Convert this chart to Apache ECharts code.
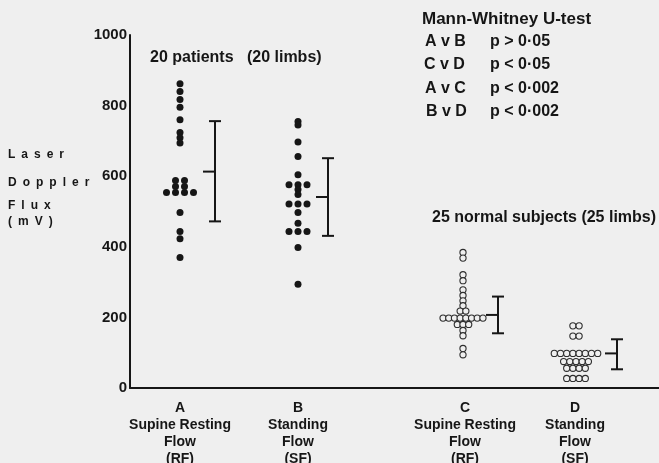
<!DOCTYPE html>
<html>
<head>
<meta charset="utf-8">
<script src="https://cdn.jsdelivr.net/npm/echarts@6/dist/echarts.min.js"></script>
<style>
html,body{margin:0;padding:0;background:#efefef;}
#chart{width:659px;height:463px;}
</style>
</head>
<body>
<div id="chart"></div>
<script>
// ---- data ----
const groupNames = ['A', 'B', 'C', 'D'];
const groupLabels = ['A\nSupine Resting\nFlow\n(RF)', 'B\nStanding\nFlow\n(SF)', 'C\nSupine Resting\nFlow\n(RF)', 'D\nStanding\nFlow\n(SF)'];
const valuesA = [862, 840, 817, 795, 760, 724, 709, 694, 588, 588, 571, 571, 554, 554, 554, 554, 497, 443, 423, 370];
const valuesB = [755, 745, 697, 656, 604, 576, 576, 576, 562, 548, 521, 521, 521, 497, 467, 443, 443, 443, 398, 294];
const valuesC = [384, 368, 321, 304, 278, 262, 247, 233, 218, 218, 198, 198, 198, 198, 198, 198, 198, 198, 180, 180, 180, 163, 148, 112, 94];
const valuesD = [176, 176, 147, 147, 98, 98, 98, 98, 98, 98, 98, 98, 75, 75, 75, 75, 75, 56, 56, 56, 56, 27, 27, 27, 27];
const meanVals = [613, 541, 207, 98];
const upperVals = [756, 651, 259, 138];
const lowerVals = [472, 431, 155, 53];
const yTicks = [0, 200, 400, 600, 800, 1000];

// ---- layout (positions along the hidden horizontal scale) ----
const groupCenters = [50, 168, 333, 446];
const labelCenters = [50, 168, 335, 445];
const barCenters = [85, 198, 368, 487];
const dotStep = [9, 9, 5.7, 6.2];

const FONT = "'Liberation Sans', Arial, sans-serif";
const INK = '#161616';
const BG = '#efefef';
const SP = '\u2002';

function swarm(values, center, step) {
  const counts = {}, seen = {};
  values.forEach(v => counts[v] = (counts[v] || 0) + 1);
  return values.map(v => {
    const i = seen[v] || 0; seen[v] = i + 1;
    return [center + (i - (counts[v] - 1) / 2) * step, v];
  });
}
function spaced(s) { return s.split('').join(SP); }

const allValues = [valuesA, valuesB, valuesC, valuesD];
const scatterSeries = allValues.map((vals, g) => {
  const filled = g < 2;
  return {
    type: 'scatter',
    name: groupNames[g],
    data: swarm(vals, groupCenters[g], dotStep[g]),
    symbol: 'circle',
    symbolSize: filled ? 7 : 6.2,
    itemStyle: filled ? { color: INK, opacity: 1 } : { color: BG, borderColor: '#2e2e2e', borderWidth: 1.1, opacity: 1 },
    z: 3
  };
});

const errData = meanVals.map((m, i) => [barCenters[i], m, lowerVals[i], upperVals[i]]);

const chart = echarts.init(document.getElementById('chart'));
chart.setOption({
  animation: false,
  backgroundColor: BG,
  grid: { left: 130, right: 0, top: 35, bottom: 75, containLabel: false, outerBoundsMode: 'none' },
  xAxis: {
    type: 'value', min: 0, max: 529,
    axisLine: { show: true, lineStyle: { color: INK, width: 2 } },
    axisTick: { show: false },
    splitLine: { show: false },
    axisLabel: {
      customValues: labelCenters,
      formatter: function (v) { const i = labelCenters.indexOf(v); return i >= 0 ? groupLabels[i] : ''; },
      color: INK, fontFamily: FONT, fontWeight: 'bold', fontSize: 14, lineHeight: 17, margin: 12, align: 'center'
    }
  },
  yAxis: {
    type: 'value', min: 0, max: 1000, interval: 200,
    axisLine: { show: true, lineStyle: { color: INK, width: 2 } },
    axisTick: { show: false },
    splitLine: { show: false },
    axisLabel: {
      color: INK, fontFamily: FONT, fontWeight: 'bold', fontSize: 15, margin: 3,
      formatter: function (v) { return yTicks.indexOf(v) >= 0 ? String(v) : ''; }
    }
  },
  series: scatterSeries.concat([{
    type: 'custom',
    data: errData,
    z: 2,
    renderItem: function (params, api) {
      const x = api.value(0);
      const pm = api.coord([x, api.value(1)]);
      const pl = api.coord([x, api.value(2)]);
      const pu = api.coord([x, api.value(3)]);
      const st = { stroke: INK, lineWidth: 2 };
      const cap = 6, tick = 12;
      return {
        type: 'group',
        children: [
          { type: 'line', shape: { x1: pu[0], y1: pu[1], x2: pl[0], y2: pl[1] }, style: st },
          { type: 'line', shape: { x1: pu[0] - cap, y1: pu[1], x2: pu[0] + cap, y2: pu[1] }, style: st },
          { type: 'line', shape: { x1: pl[0] - cap, y1: pl[1], x2: pl[0] + cap, y2: pl[1] }, style: st },
          { type: 'line', shape: { x1: pm[0] - tick, y1: pm[1], x2: pm[0], y2: pm[1] }, style: st }
        ]
      };
    }
  }]),
  graphic: [
    { type: 'text', left: 8, top: 149, style: { text: spaced('Laser'), font: "bold 12px " + FONT, fill: INK } },
    { type: 'text', left: 8, top: 177, style: { text: spaced('Doppler'), font: "bold 12px " + FONT, fill: INK } },
    { type: 'text', left: 8, top: 200, style: { text: spaced('Flux'), font: "bold 12px " + FONT, fill: INK } },
    { type: 'text', left: 8, top: 216, style: { text: spaced('(mV)'), font: "bold 12px " + FONT, fill: INK } },
    { type: 'text', left: 150, top: 50, style: { text: '20 patients   (20 limbs)', font: "bold 16px " + FONT, fill: INK } },
    { type: 'text', left: 432, top: 210, style: { text: '25 normal subjects (25 limbs)', font: "bold 16px " + FONT, fill: INK } },
    { type: 'text', left: 422, top: 11, style: { text: 'Mann-Whitney U-test', font: "bold 17px " + FONT, fill: INK } },
    { type: 'text', left: 425, top: 34, style: { text: 'A v B', font: "bold 16px " + FONT, fill: INK } },
    { type: 'text', left: 490, top: 34, style: { text: 'p > 0·05', font: "bold 16px " + FONT, fill: INK } },
    { type: 'text', left: 424, top: 57, style: { text: 'C v D', font: "bold 16px " + FONT, fill: INK } },
    { type: 'text', left: 490, top: 57, style: { text: 'p < 0·05', font: "bold 16px " + FONT, fill: INK } },
    { type: 'text', left: 425, top: 81, style: { text: 'A v C', font: "bold 16px " + FONT, fill: INK } },
    { type: 'text', left: 490, top: 81, style: { text: 'p < 0·002', font: "bold 16px " + FONT, fill: INK } },
    { type: 'text', left: 426, top: 104, style: { text: 'B v D', font: "bold 16px " + FONT, fill: INK } },
    { type: 'text', left: 490, top: 104, style: { text: 'p < 0·002', font: "bold 16px " + FONT, fill: INK } }
  ]
});
</script>
</body>
</html>
